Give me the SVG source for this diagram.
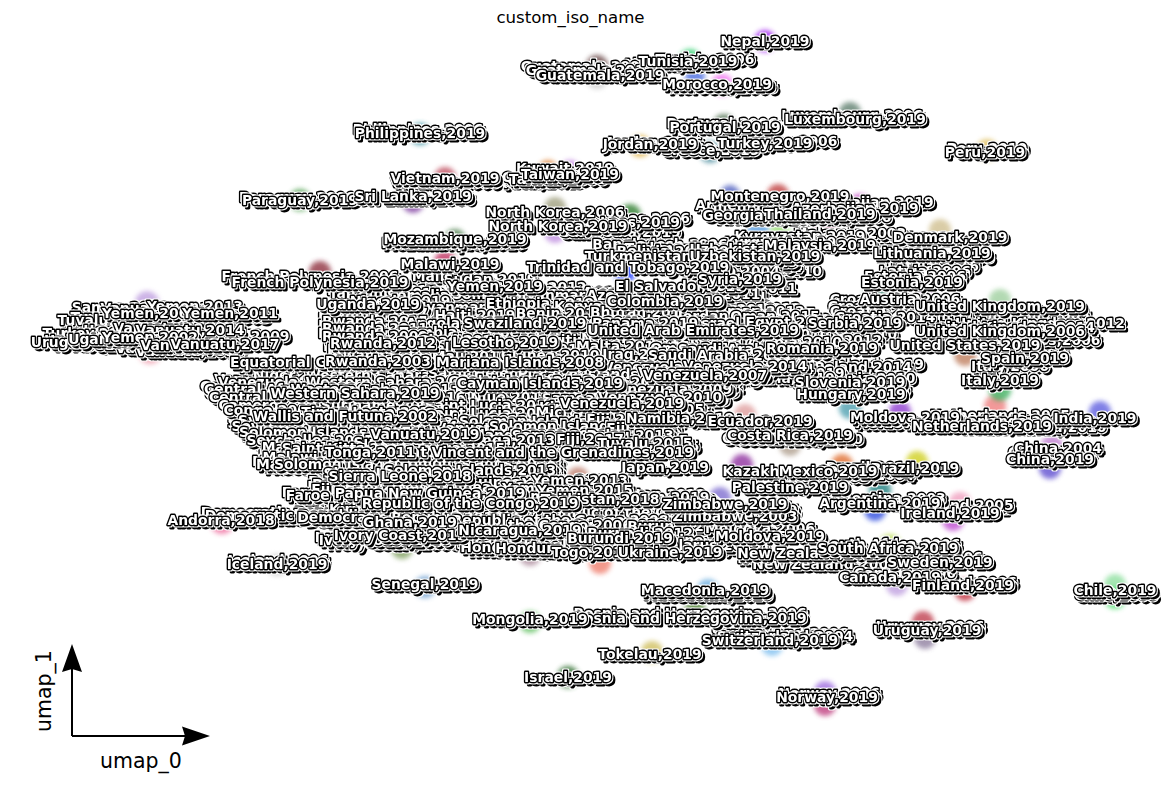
<svg xmlns="http://www.w3.org/2000/svg" width="1172" height="790" viewBox="0 0 1172 790">
<style>
text{font-family:"DejaVu Sans",sans-serif}
.t{font-size:16.6px;text-anchor:middle;fill:#000}
.a{font-size:20.5px;text-anchor:middle;fill:#000}
#labels text{font-size:13.9px;font-weight:700;text-anchor:middle;fill:#fff;stroke:#000;stroke-width:2.8;paint-order:stroke;stroke-linejoin:round;filter:url(#o)}
#blobs circle{filter:url(#b);opacity:.8}
</style>
<defs>
<filter id="b" x="-50%" y="-50%" width="200%" height="200%"><feGaussianBlur stdDeviation="2.500"/></filter>
<filter id="o" x="-10%" y="-60%" width="120%" height="220%" color-interpolation-filters="sRGB">
<feFlood flood-color="#fff" result="w"/>
<feOffset in="SourceAlpha" dx="2.500" dy="2.500" result="s"/>
<feMorphology in="s" operator="dilate" radius="1" result="sd"/>
<feComposite in="w" in2="sd" operator="in" result="sw"/>
<feMorphology in="SourceAlpha" operator="dilate" radius="1" result="d"/>
<feComposite in="w" in2="d" operator="in" result="dw"/>
<feMerge><feMergeNode in="sw"/><feMergeNode in="s"/><feMergeNode in="dw"/><feMergeNode in="SourceGraphic"/></feMerge>
</filter>
</defs>
<rect width="1172" height="790" fill="#fff"/>
<text class="t" x="570.500" y="23">custom_iso_name</text>
<g id="blobs">
<circle cx="765" cy="41" r="11" fill="#a020f0"/><circle cx="690" cy="60" r="11" fill="#30d070"/><circle cx="597" cy="66" r="11" fill="#6b4a4a"/><circle cx="597" cy="78" r="11" fill="#ccc"/><circle cx="722" cy="85" r="11" fill="#f070f0"/><circle cx="695" cy="76" r="10" fill="#5070e0"/><circle cx="724" cy="125" r="11" fill="#507050"/><circle cx="850" cy="113" r="11" fill="#608070"/><circle cx="420" cy="134" r="11" fill="#3090a0"/><circle cx="640" cy="146" r="11" fill="#e0b040"/><circle cx="710" cy="152" r="11" fill="#5090a0"/><circle cx="987" cy="150" r="11" fill="#e0c060"/><circle cx="445" cy="178" r="11" fill="#c05060"/><circle cx="548" cy="170" r="10" fill="#e08030"/><circle cx="570" cy="170" r="10" fill="#c080e0"/><circle cx="413" cy="202" r="11" fill="#8040a0"/><circle cx="300" cy="200" r="11" fill="#50a050"/><circle cx="555" cy="208" r="11" fill="#a0a080"/><circle cx="630" cy="215" r="11" fill="#308030"/><circle cx="555" cy="232" r="11" fill="#c090e0"/><circle cx="778" cy="195" r="11" fill="#c04040"/><circle cx="730" cy="195" r="10" fill="#5060c0"/><circle cx="860" cy="205" r="11" fill="#c040c0"/><circle cx="758" cy="228" r="11" fill="#60a0e0"/><circle cx="455" cy="240" r="11" fill="#508050"/><circle cx="445" cy="262" r="11" fill="#c03060"/><circle cx="320" cy="272" r="11" fill="#903040"/><circle cx="625" cy="272" r="11" fill="#2040ff"/><circle cx="147" cy="303" r="12" fill="#c0a0e0"/><circle cx="150" cy="352" r="12" fill="#f0a0b0"/><circle cx="222" cy="522" r="12" fill="#f070a0"/><circle cx="277" cy="565" r="11" fill="#ccc"/><circle cx="425" cy="587" r="11" fill="#70a0d0"/><circle cx="708" cy="590" r="11" fill="#70b0e0"/><circle cx="530" cy="622" r="11" fill="#60c060"/><circle cx="695" cy="612" r="11" fill="#508030"/><circle cx="772" cy="645" r="11" fill="#80c0f0"/><circle cx="652" cy="652" r="11" fill="#d0c060"/><circle cx="568" cy="677" r="11" fill="#307030"/><circle cx="825" cy="692" r="11" fill="#a070e0"/><circle cx="825" cy="705" r="11" fill="#c04080"/><circle cx="923" cy="622" r="11" fill="#c04050"/><circle cx="925" cy="638" r="11" fill="#9080a0"/><circle cx="965" cy="590" r="11" fill="#c03040"/><circle cx="1115" cy="585" r="11" fill="#90e0a0"/><circle cx="1115" cy="598" r="11" fill="#50e070"/><circle cx="897" cy="585" r="11" fill="#c0a0e0"/><circle cx="890" cy="545" r="11" fill="#c0e060"/><circle cx="953" cy="520" r="11" fill="#c050d0"/><circle cx="960" cy="503" r="11" fill="#f0a0c0"/><circle cx="875" cy="510" r="11" fill="#3050e0"/><circle cx="880" cy="490" r="11" fill="#208080"/><circle cx="917" cy="462" r="11" fill="#d0d020"/><circle cx="1052" cy="446" r="11" fill="#c080d0"/><circle cx="1050" cy="468" r="11" fill="#6050d0"/><circle cx="842" cy="465" r="11" fill="#e07030"/><circle cx="742" cy="465" r="11" fill="#9030a0"/><circle cx="790" cy="485" r="11" fill="#e08090"/><circle cx="720" cy="498" r="11" fill="#8070d0"/><circle cx="730" cy="522" r="11" fill="#a090d0"/><circle cx="763" cy="537" r="11" fill="#b07060"/><circle cx="995" cy="406" r="11" fill="#f08080"/><circle cx="900" cy="412" r="11" fill="#9040d0"/><circle cx="1100" cy="412" r="11" fill="#6060e0"/><circle cx="850" cy="408" r="11" fill="#50a0b0"/><circle cx="1000" cy="390" r="11" fill="#40b060"/><circle cx="965" cy="355" r="11" fill="#c08060"/><circle cx="940" cy="230" r="11" fill="#d0c090"/><circle cx="1000" cy="300" r="11" fill="#a0d0a0"/><circle cx="925" cy="290" r="11" fill="#c060e0"/><circle cx="875" cy="295" r="11" fill="#408070"/><circle cx="825" cy="232" r="11" fill="#c04080"/><circle cx="780" cy="232" r="10" fill="#a0e080"/><circle cx="600" cy="563" r="11" fill="#f08070"/><circle cx="530" cy="555" r="11" fill="#b090a0"/><circle cx="402" cy="548" r="11" fill="#80a060"/><circle cx="578" cy="478" r="11" fill="#c08070"/><circle cx="745" cy="415" r="11" fill="#e0a0a0"/><circle cx="790" cy="445" r="11" fill="#b0a090"/><circle cx="640" cy="440" r="10" fill="#6050e0"/>
</g>
<g id="labels">
<text x="1116" y="600">Chile,2006</text><text x="1052" y="457">China,2006</text><text x="1058" y="453">China,2004</text><text x="829" y="698">Norway,2006</text><text x="930" y="631">Uruguay,2006</text><text x="780" y="638">Switzerland,2006</text><text x="785" y="641">Switzerland,2004</text><text x="690" y="618">Bosnia and Herzegovina,2006</text><text x="708" y="600">Macedonia,2010</text><text x="278" y="565">Iceland,2006</text>
<text x="958" y="513">Ireland,2001</text><text x="964" y="510">Ireland,2005</text><text x="885" y="503">Argentina,2003</text><text x="966" y="587">Finland,2006</text><text x="930" y="562">Sweden,2006</text><text x="900" y="573">Sweden,2003</text><text x="890" y="549">South Africa,2006</text><text x="810" y="563">New Zealand,2010</text><text x="825" y="569">New Zealand,2006</text><text x="905" y="578">Canada,2006</text>
<text x="1000" y="420">Netherlands,2005</text><text x="1000" y="426">Netherlands,2007</text><text x="1030" y="432">Netherlands,2010</text><text x="910" y="428">Moldova,2006</text><text x="1065" y="432">India,2010</text><text x="785" y="443">Costa Rica,2008</text><text x="800" y="444">Costa Rica,2010</text><text x="735" y="426">El Salvador,2011</text><text x="870" y="472">Brazil,2010</text><text x="870" y="480">Brazil,2004</text><text x="820" y="482">Mexico,2003</text>
<text x="1010" y="371">Italy,2006</text><text x="1023" y="355">Spain,2006</text><text x="1025" y="345">United States,2006</text><text x="1000" y="326">United Kingdom,2003</text><text x="1005" y="320">United Kingdom,2005</text><text x="1040" y="328">United Kingdom,2012</text><text x="1010" y="332">United Kingdom,2014</text>
<text x="880" y="304">Croatia,2006</text><text x="878" y="311">Croatia,2010</text><text x="880" y="316">Croatia,2012</text><text x="885" y="322">Croatia,2014</text><text x="910" y="304">Austria,2006</text><text x="850" y="333">Serbia,2006</text><text x="850" y="339">Serbia,2010</text><text x="835" y="345">Serbia,2012</text><text x="835" y="373">Romania,2006</text><text x="855" y="379">Slovenia,2006</text><text x="875" y="369">Poland,2019</text><text x="863" y="372">Poland,2014</text><text x="860" y="383">Slovenia,2010</text><text x="855" y="395">Hungary,2006</text><text x="790" y="378">Bulgaria,2019</text><text x="780" y="383">Bulgaria,2010</text>
<text x="935" y="262">Lithuania,2006</text><text x="932" y="266">Latvia,2019</text><text x="933" y="271">Latvia,2016</text><text x="925" y="276">Latvia,2006</text><text x="915" y="281">Estonia,2006</text><text x="895" y="243">Greenland,2010</text><text x="850" y="238">Malaysia,2003</text><text x="800" y="241">Kyrgyzstan,2019</text><text x="790" y="247">Kyrgyzstan,2006</text><text x="825" y="214">Albania,2019</text><text x="840" y="222">Albania,2006</text><text x="770" y="222">Armenia,2006</text><text x="750" y="210">Armenia,2019</text><text x="870" y="207">Azerbaijan,2019</text><text x="780" y="276">Syria,2010</text><text x="755" y="293">Syria,2011</text><text x="765" y="272">Iran,2004</text><text x="760" y="267">Iran,2019</text>
<text x="705" y="64">Tunisia,2006</text><text x="672" y="69">Algeria,2019</text><text x="585" y="71">Guatemala,2006</text><text x="590" y="75">Guatemala,2013</text><text x="722" y="92">Morocco,2006</text><text x="852" y="120">Luxembourg,2006</text><text x="418" y="134">Philippines,2006</text><text x="722" y="128">Portugal,2006</text><text x="790" y="146">Turkey,2006</text><text x="655" y="147">Jordan,2006</text><text x="708" y="151">Greece,2006</text><text x="987" y="153">Peru,2010</text><text x="565" y="173">Kuwait,2019</text><text x="540" y="186">Qatar,2019</text><text x="545" y="182">Qatar,2006</text><text x="445" y="187">Vietnam,2006</text><text x="558" y="184">Taiwan,2006</text><text x="297" y="202">Paraguay,2006</text><text x="415" y="203">Sri Lanka,2006</text><text x="453" y="248">Mozambique,2010</text><text x="650" y="223">Laos,2006</text><text x="620" y="237">Cambodia,2019</text>
<text x="660" y="249">Bangladesh,2006</text><text x="700" y="253">Turkmenistan,2006</text><text x="665" y="256">Bolivia,2006</text><text x="755" y="254">Uzbekistan,2006</text><text x="730" y="276">Tobago,2004</text><text x="310" y="281">French Polynesia,2006</text><text x="450" y="281">Mali,2006</text><text x="490" y="284">Sudan,2019</text><text x="540" y="292">Sudan,2012</text>
<text x="120" y="312">Samoa,2001</text><text x="155" y="313">Vanuatu,2001</text><text x="195" y="311">Yemen,2013</text><text x="118" y="322">Tuvalu,2003</text><text x="105" y="325">Tuvalu,2011</text><text x="215" y="322">Vanuatu,2003</text><text x="135" y="335">Uganda,2005</text><text x="90" y="338">Turkey,2003</text><text x="215" y="340">Yemen,2012</text><text x="235" y="341">Vanuatu,2009</text><text x="92" y="345">United,2001</text><text x="98" y="349">Tuvalu,2008</text><text x="85" y="347">Uruguay,2001</text><text x="160" y="350">Uzbekistan,2001</text><text x="170" y="353">Vanuatu,2005</text><text x="190" y="356">Vanuatu,2016</text><text x="150" y="318">Yemen,2003</text><text x="168" y="333">Vanuatu,2004</text><text x="230" y="318">Yemen,2011</text><text x="190" y="335">Vanuatu,2014</text><text x="120" y="344">Uganda,2002</text><text x="150" y="342">Yemen,2002</text><text x="195" y="350">Vanuatu,2008</text><text x="225" y="349">Vanuatu,2017</text>
<use href="#mid" x="7" y="3"/>
<use href="#mid" x="-4" y="-3"/>
<g id="mid">
<text x="385" y="298">Tanzania,2019</text><text x="440" y="300">Somalia,2019</text><text x="505" y="299">Somalia,2010</text><text x="570" y="300">Myanmar,2019</text><text x="650" y="300">Azerbaijan,2006</text><text x="705" y="299">Lebanon,2011</text>
<text x="400" y="306">Nigeria,2019</text><text x="470" y="312">Myanmar,2006</text><text x="540" y="308">Ethiopia,2019</text><text x="600" y="311">Kenya,2019</text><text x="660" y="311">Kuwait,2010</text><text x="720" y="314">Lebanon,2019</text><text x="760" y="316">Oman,2012</text>
<text x="375" y="318">Rwanda,2017</text><text x="475" y="320">Haiti,2019</text><text x="560" y="318">Benin,2019</text><text x="640" y="317">Bhutan,2019</text><text x="725" y="321">Jordan,2014</text><text x="775" y="321">Oman,2015</text>
<text x="375" y="326">Rwanda,2015</text><text x="455" y="328">Angola,2015</text><text x="590" y="327">Bahrain,2019</text><text x="670" y="328">Nepal,2007</text><text x="740" y="328">Israel,2006</text><text x="790" y="327">Egypt,2019</text>
<text x="375" y="333">Rwanda,2011</text><text x="450" y="337">Zambia,2019</text><text x="535" y="337">Liberia,2019</text><text x="615" y="335">Malta,2019</text><text x="730" y="338">Cuba,2019</text><text x="785" y="339">Egypt,2010</text>
<text x="375" y="341">Rwanda,2009</text><text x="460" y="345">Chad,2019</text><text x="580" y="345">Mauritius,2010</text><text x="635" y="343">Namibia,2012</text><text x="735" y="346">Oman,2006</text><text x="770" y="347">Saudi Arabia,2010</text>
<text x="380" y="354">Rwanda,2007</text><text x="460" y="353">Mali,2018</text><text x="545" y="354">Niger,2019</text><text x="620" y="351">Malta,2014</text><text x="695" y="353">Oman,2018</text><text x="750" y="354">Saudi Arabia,2006</text>
<text x="385" y="360">Rwanda,2005</text><text x="470" y="361">Mali,2010</text><text x="550" y="360">Guinea,2010</text><text x="640" y="359">Iraq,2019</text><text x="720" y="360">Saudi Arabia,2019</text>
<text x="290" y="373">Nigeria,2003</text><text x="380" y="373">Rwanda,2001</text><text x="470" y="372">Saint Helena,2012</text><text x="570" y="372">Marshall Islands,2009</text><text x="665" y="372">Venezuela,2012</text><text x="745" y="371">Venezuela,2014</text>
<text x="295" y="380">Niger,2006</text><text x="390" y="380">Western Sahara,2007</text><text x="500" y="378">Saint Helena,2016</text><text x="600" y="379">Pitcairn Islands,2009</text><text x="700" y="377">Venezuela,2016</text>
<text x="280" y="387">Venezuela,2002</text><text x="390" y="387">Western Sahara,2018</text><text x="520" y="386">Cook Islands,2008</text><text x="620" y="387">Tunisia,2014</text><text x="690" y="388">Nauru,2012</text>
<text x="285" y="394">Central African,2006</text><text x="375" y="394">Western Sahara,2012</text><text x="500" y="396">Tuvalu,2017</text><text x="590" y="396">Tokelau,2014</text><text x="670" y="394">Venezuela,2009</text>
<text x="290" y="402">Central African,2011</text><text x="400" y="402">Saint Lucia,2016</text><text x="510" y="402">Niue,2017</text><text x="590" y="403">Samoa,2012</text><text x="660" y="402">Venezuela,2010</text>
<text x="280" y="410">Cameroon,2003</text><text x="380" y="410">Suriname,2004</text><text x="490" y="410">Saint Lucia,2019</text><text x="590" y="412">Kiribati,2019</text><text x="650" y="414">Namibia,2005</text>
<text x="270" y="415">Congo,2001</text><text x="370" y="417">Timor-Leste,2019</text><text x="490" y="418">Saint Lucia,2013</text><text x="600" y="417">Micronesia,2014</text>
<text x="280" y="425">Syria,2003</text><text x="440" y="425">Turks and Caicos,2011</text><text x="545" y="426">Solomon Islands,2012</text><text x="620" y="424">Fiji,2015</text>
<text x="295" y="431">Seychelles,2013</text><text x="370" y="431">Turks and Caicos,2014</text><text x="490" y="433">Vanuatu,2012</text><text x="575" y="431">Solomon Islands,2004</text><text x="640" y="433">Fiji,2016</text>
<text x="325" y="437">Solomon Islands,2017</text><text x="480" y="440">Solomon Islands,2008</text><text x="560" y="440">Samoa,2013</text><text x="630" y="440">Palau,2013</text>
<text x="310" y="445">Seychelles,2015</text><text x="400" y="447">Sudan,2010</text><text x="510" y="445">Tonga,2013</text><text x="590" y="444">Fiji,2017</text><text x="645" y="448">Tuvalu,2015</text>
<text x="300" y="452">Mali,2012</text><text x="345" y="453">Saint Kitts,2012</text><text x="460" y="453">Tonga,2015</text>
<text x="312" y="462">Malawi,2012</text><text x="400" y="465">Mauritania,2018</text><text x="500" y="462">Maldives,2016</text>
<text x="300" y="469">Malta,2012</text><text x="360" y="469">Solomon Islands,2016</text><text x="470" y="468">Solomon Islands,2015</text>
<text x="395" y="478">Sierra Leone,2014</text><text x="470" y="475">Solomon Islands,2013</text>
<text x="370" y="489">Paraguay,2014</text><text x="470" y="487">Papua New Guinea,2015</text><text x="570" y="488">Yemen,2007</text>
<text x="345" y="494">Fiji,2019</text><text x="440" y="492">Papua New Guinea,2010</text><text x="550" y="493">Yemen,2011</text>
<text x="360" y="500">Faroe Islands,2019</text><text x="560" y="501">Yemen,2009</text><text x="650" y="502">Tajikistan,2019</text>
<text x="380" y="514">Kiribati,2019</text><text x="555" y="511">Thailand,2012</text><text x="650" y="511">Tajikistan,2012</text><text x="730" y="512">Zimbabwe,2015</text>
<text x="360" y="520">Democratic Republic of the Congo,2010</text><text x="550" y="518">Republic of the Congo,2012</text><text x="640" y="517">Republic of the Congo,2014</text>
<text x="400" y="522">Democratic Republic,2019</text><text x="560" y="525">Republic of the Congo,2008</text><text x="620" y="530">Sudan,2019</text>
<text x="420" y="534">Ghana,2006</text><text x="570" y="530">the Congo,2006</text><text x="690" y="537">Bhutan,2014</text><text x="680" y="531">Burundi,2016</text>
<text x="385" y="545">Ivory Coast,2006</text><text x="520" y="546">Nicaragua,2006</text><text x="640" y="538">Burundi,2012</text><text x="695" y="545">Ukraine,2013</text>
<text x="520" y="552">Honduras,2006</text><text x="555" y="553">Honduras,2013</text><text x="600" y="548">Togo,2006</text><text x="710" y="550">Belarus,2019</text>
</g>
<text x="760" y="533">Moldova,2006</text><text x="770" y="541">Moldova,2019</text><text x="735" y="515">Zimbabwe,2010</text><text x="735" y="521">Zimbabwe,2003</text>
<text x="765" y="46">Nepal,2019</text><text x="688" y="66">Tunisia,2019</text><text x="600" y="80">Guatemala,2019</text><text x="717" y="89">Morocco,2019</text><text x="725" y="132">Portugal,2019</text><text x="855" y="124">Luxembourg,2019</text><text x="420" y="138">Philippines,2019</text><text x="710" y="155">Greece,2019</text><text x="650" y="149">Jordan,2019</text><text x="765" y="148">Turkey,2019</text><text x="985" y="157">Peru,2019</text><text x="445" y="183">Vietnam,2019</text><text x="570" y="179">Taiwan,2019</text><text x="300" y="205">Paraguay,2019</text><text x="413" y="201">Sri Lanka,2019</text><text x="780" y="201">Montenegro,2019</text><text x="755" y="220">Georgia,2019</text><text x="855" y="213">Azerbaijan,2019</text><text x="820" y="219">Thailand,2019</text><text x="555" y="217">North Korea,2006</text><text x="640" y="227">Laos,2019</text><text x="558" y="231">North Korea,2019</text><text x="455" y="244">Mozambique,2019</text><text x="950" y="242">Denmark,2019</text><text x="820" y="250">Malaysia,2019</text><text x="932" y="258">Lithuania,2019</text><text x="450" y="269">Malawi,2019</text><text x="660" y="261">Turkmenistan,2019</text><text x="755" y="261">Uzbekistan,2019</text><text x="628" y="272">Trinidad and Tobago,2019</text><text x="912" y="287">Estonia,2019</text><text x="320" y="287">French Polynesia,2019</text><text x="495" y="291">Yemen,2019</text><text x="680" y="291">El Salvador,2019</text><text x="740" y="284">Syria,2019</text>
<text x="368" y="309">Uganda,2019</text><text x="665" y="306">Colombia,2019</text><text x="525" y="328">Swaziland,2019</text><text x="645" y="328">Panama,2019</text><text x="855" y="328">Serbia,2019</text><text x="1000" y="311">United Kingdom,2019</text><text x="1000" y="336">United Kingdom,2006</text><text x="693" y="335">United Arab Emirates,2019</text><text x="383" y="348">Rwanda,2012</text><text x="505" y="347">Lesotho,2019</text><text x="822" y="353">Romania,2019</text><text x="965" y="350">United States,2019</text><text x="1025" y="363">Spain,2019</text><text x="1000" y="385">Italy,2019</text><text x="322" y="367">Equatorial Guinea,2019</text><text x="378" y="366">Rwanda,2003</text><text x="520" y="367">Mariana Islands,2008</text><text x="705" y="380">Venezuela,2007</text><text x="850" y="387">Slovenia,2019</text><text x="851" y="399">Hungary,2019</text><text x="355" y="398">Western Sahara,2019</text><text x="540" y="388">Cayman Islands,2019</text><text x="622" y="408">Venezuela,2019</text><text x="345" y="421">Wallis and Futuna,2002</text><text x="680" y="423">Namibia,2019</text><text x="760" y="426">Ecuador,2019</text><text x="790" y="440">Costa Rica,2019</text><text x="905" y="422">Moldova,2019</text><text x="1095" y="423">India,2019</text><text x="982" y="431">Netherlands,2019</text><text x="425" y="439">Vanuatu,2019</text>
<text x="540" y="457">Saint Vincent and the Grenadines,2019</text><text x="370" y="457">Tonga,2011</text><text x="1050" y="464">China,2019</text><text x="665" y="472">Japan,2019</text><text x="790" y="476">Kazakhstan,2019</text><text x="915" y="473">Brazil,2019</text><text x="828" y="476">Mexico,2019</text><text x="790" y="492">Palestine,2019</text><text x="580" y="485">Yemen,2013</text><text x="400" y="481">Sierra Leone,2018</text><text x="585" y="495">Yemen,2015</text><text x="430" y="498">Papua New Guinea,2019</text><text x="600" y="504">Tajikistan,2018</text><text x="725" y="509">Zimbabwe,2019</text><text x="880" y="508">Argentina,2019</text><text x="470" y="508">Republic of the Congo,2019</text><text x="950" y="518">Ireland,2019</text><text x="410" y="527">Ghana,2019</text><text x="400" y="540">Ivory Coast,2019</text><text x="520" y="535">Nicaragua,2019</text><text x="620" y="543">Burundi,2019</text><text x="592" y="557">Togo,2019</text><text x="670" y="557">Ukraine,2019</text><text x="810" y="558">New Zealand,2019</text><text x="888" y="553">South Africa,2019</text><text x="940" y="567">Sweden,2019</text><text x="890" y="582">Canada,2019</text><text x="963" y="590">Finland,2019</text><text x="277" y="569">Iceland,2019</text><text x="221" y="525">Andorra,2018</text><text x="425" y="589">Senegal,2019</text><text x="705" y="595">Macedonia,2019</text><text x="690" y="623">Bosnia and Herzegovina,2019</text><text x="530" y="624">Mongolia,2019</text><text x="1115" y="595">Chile,2019</text><text x="927" y="635">Uruguay,2019</text><text x="770" y="645">Switzerland,2019</text><text x="650" y="659">Tokelau,2019</text><text x="568" y="682">Israel,2019</text><text x="827" y="702">Norway,2019</text>
</g>
<g id="axes">
<path d="M72 736V668M72 736H186" fill="none" stroke="#000" stroke-width="2"/>
<path d="M72 644L82 672L72 669L62 672Z"/><path d="M210 736L182 745.500L185 736L182 726.500Z"/>
<text class="a" x="141" y="768">umap_0</text>
<text class="a" transform="translate(51 691) rotate(-90)">umap_1</text>
</g>
</svg>
